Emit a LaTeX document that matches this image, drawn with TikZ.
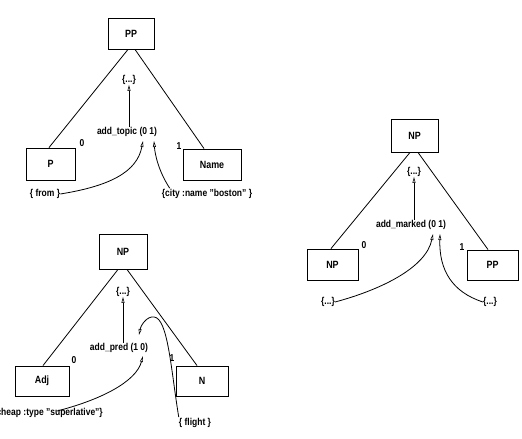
\documentclass[tikz,border=0pt]{standalone}
\usepackage{fontspec}
\setmainfont{Liberation Sans}[FakeStretch=0.85]
\usetikzlibrary{arrows.meta,calc}
\begin{document}
\begin{tikzpicture}[x=1pt,y=-1pt,
  box/.style={draw,line width=0.9pt,inner sep=0pt,font=\bfseries\fontsize{10.5}{12}\selectfont},
  lbl/.style={inner sep=0pt,font=\bfseries\fontsize{10}{11}\selectfont},
  edge/.style={line width=0.8pt},
  ptr/.style={line width=0.8pt,-{Triangle[open,length=6pt,width=3pt,line width=0.6pt]}}]
\useasboundingbox (0,0) rectangle (522,439);
% ---------- tree 1 ----------
\node[box,minimum width=46,minimum height=31] (pp1) at (131,33.5) {PP};
\node[box,minimum width=49,minimum height=32] (p1) at (50.5,164) {P};
\node[box,minimum width=58,minimum height=31] (name1) at (212,164.5) {Name};
\node[lbl] (dots1) at (129,80) {\{...\}};
\node[lbl] (at1) at (127,132) {add\_topic (0 1)};
\node[lbl] (z1) at (82,143) {0};
\node[lbl] (o1) at (179,146) {1};
\node[lbl] (from1) at (45,194) {\{ from \}};
\node[lbl] (city1) at (207,194) {\{city :name "boston" \}};
\draw[edge] ($(pp1.south)+(-3,0)$) -- ($(p1.north)+(-1.5,0)$);
\draw[edge] ($(pp1.south)+(4,0)$) -- ($(name1.north)+(-8,0)$);
\draw[ptr] (at1.north -| dots1) -- (dots1.south);
\coordinate (t1a) at (143,141);
\coordinate (t1b) at (154,141);
\draw[ptr] (from1.east) .. controls (110,186) and (137,172) .. (t1a);
\draw[ptr] ($(city1.north west)+(8,-1)$) .. controls (159,172) and (155,155) .. (t1b);
% ---------- tree 2 ----------
\node[box,minimum width=48,minimum height=35] (np2) at (123,251.5) {NP};
\node[box,minimum width=54,minimum height=30] (adj2) at (42,381) {Adj};
\node[box,minimum width=52,minimum height=30] (n2) at (202,381) {N};
\node[lbl] (dots2) at (123,292) {\{...\}};
\node[lbl] (ap2) at (119,348) {add\_pred (1 0)};
\node[lbl] (z2) at (74,360) {0};
\node[lbl] (o2) at (172,358) {1};
\node[lbl,anchor=east] (cheap2) at (103,413) {\{cheap :type "superlative"\}};
\node[lbl] (flight2) at (195,423) {\{ flight \}};
\draw[edge] ($(np2.south)+(-5,0)$) -- ($(adj2.north)+(1,0)$);
\draw[edge] ($(np2.south)+(4,0)$) -- ($(n2.north)+(-5,0)$);
\draw[ptr] (ap2.north -| dots2) -- (dots2.south);
\coordinate (t2a) at (143,356);
\coordinate (t2b) at (139,335);
\draw[ptr] ($(cheap2.east)+(-46,-2)$) .. controls (100,400) and (136,382) .. (t2a);
\draw[ptr] ($(flight2.north west)+(0,-1)$) .. controls (171,370) and (168,318) .. (154,317)
  .. controls (147,316) and (141,325) .. (t2b);
% ---------- tree 3 ----------
\node[box,minimum width=47,minimum height=33] (np3) at (414.5,135.5) {NP};
\node[box,minimum width=51,minimum height=31] (np3b) at (332.5,264.5) {NP};
\node[box,minimum width=51,minimum height=30] (pp3) at (492.5,265) {PP};
\node[lbl] (dots3) at (414,172) {\{...\}};
\node[lbl] (am3) at (411,225) {add\_marked (0 1)};
\node[lbl] (z3) at (364,245) {0};
\node[lbl] (o3) at (462,247) {1};
\node[lbl] (dl3) at (328,302) {\{...\}};
\node[lbl] (dr3) at (490,302) {\{...\}};
\draw[edge] ($(np3.south)+(-4.5,0)$) -- ($(np3b.north)+(-1.5,0)$);
\draw[edge] ($(np3.south)+(3.5,0)$) -- ($(pp3.north)+(-4.5,0)$);
\draw[ptr] (am3.north -| dots3) -- (dots3.south);
\coordinate (t3a) at (433,234);
\coordinate (t3b) at (440,234);
\draw[ptr] (dl3.east) .. controls (380,290) and (426,268) .. (t3a);
\draw[ptr] (dr3.west) .. controls (452,292) and (439,270) .. (t3b);
\end{tikzpicture}
\end{document}
